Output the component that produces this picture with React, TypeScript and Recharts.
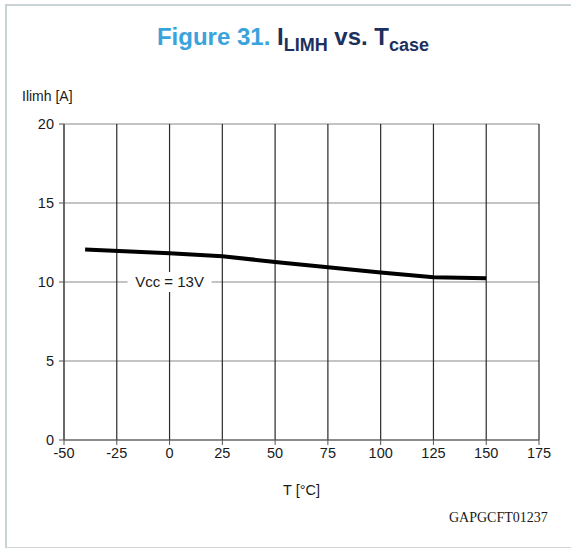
import { CartesianGrid, Line, LineChart, ReferenceDot, XAxis, YAxis } from 'recharts'

const temps = [-40, 0, 25, 50, 75, 100, 125, 150]
const ilimh = [12.05, 11.82, 11.63, 11.27, 10.93, 10.6, 10.3, 10.23]
const xTicks = [-50, -25, 0, 25, 50, 75, 100, 125, 150, 175]
const yTicks = [0, 5, 10, 15, 20]

const data = temps.map((t, i) => ({ t, v: ilimh[i] }))

const font = '"Liberation Sans", Arial, sans-serif'
const tick = { fontSize: 14.5, fill: '#1a1a1a', fontFamily: font }

function VccLabel(props: any) {
  const { cx, cy } = props
  return (
    <g>
      <rect x={cx - 42} y={cy - 10} width={84} height={20} fill="#fff" />
      <text x={cx} y={cy + 5} textAnchor="middle" fontSize={15} fontFamily={font} fill="#1a1a1a">
        Vcc = 13V
      </text>
    </g>
  )
}

export default function App() {
  return (
    <div style={{ position: 'absolute', left: 0, top: 0, width: 571, height: 548, background: '#fff', fontFamily: font }}>
      <div style={{ position: 'absolute', left: 5, top: 4, width: 580, height: 541, borderLeft: '2px solid #c9d3d5', borderTop: '2px solid #c9d3d5', borderBottom: '1px solid #d0d6d8' }} />
      <div style={{ position: 'absolute', left: 0, width: 586, top: 23, textAlign: 'center', fontWeight: 700, fontSize: 24 }}>
        <span style={{ color: '#3aa3dc' }}>Figure 31. </span>
        <span style={{ color: '#1d2f5d' }}>
          I<sub style={{ fontSize: 18, verticalAlign: -6 }}>LIMH</sub> vs. T<sub style={{ fontSize: 18, verticalAlign: -6 }}>case</sub>
        </span>
      </div>
      <div style={{ position: 'absolute', left: 22, top: 88, fontSize: 14, color: '#1a1a1a' }}>Ilimh [A]</div>
      <LineChart width={571} height={548} data={data} margin={{ top: 124, right: 32, left: 0, bottom: 78 }}>
        <CartesianGrid vertical={false} stroke="#8a8a8a" strokeWidth={1.2} />
        <CartesianGrid horizontal={false} stroke="#2a2a2a" strokeWidth={1.2} />
        <XAxis
          type="number"
          dataKey="t"
          domain={[-50, 175]}
          ticks={xTicks}
          interval={0}
          tick={tick}
          stroke="#555"
          tickSize={5}
          tickMargin={3}
          height={30}
          label={{ value: 'T [°C]', position: 'insideBottom', offset: -25, style: { fontSize: 14.5, fill: '#1a1a1a', fontFamily: font } }}
        />
        <YAxis
          type="number"
          domain={[0, 20]}
          ticks={yTicks}
          interval={0}
          tick={tick}
          stroke="#555"
          tickSize={5}
          tickMargin={5}
          width={64}
        />
        <Line type="linear" dataKey="v" stroke="#000" strokeWidth={4} dot={false} isAnimationActive={false} />
        <ReferenceDot x={0} y={10} r={0} shape={VccLabel} />
      </LineChart>
      <div style={{ position: 'absolute', left: 449, top: 510, fontSize: 14, color: '#1a1a1a', fontFamily: '"Liberation Serif", "Times New Roman", serif' }}>
        GAPGCFT01237
      </div>
    </div>
  )
}
